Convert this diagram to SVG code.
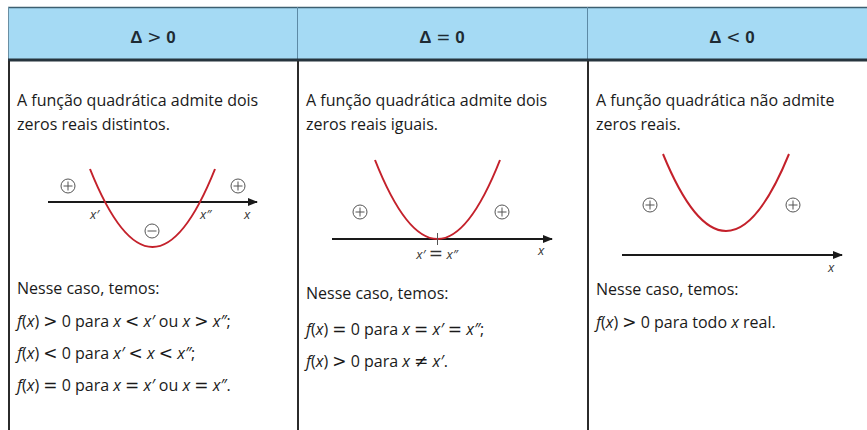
<svg xmlns="http://www.w3.org/2000/svg" width="867" height="430" viewBox="0 0 867 430">
<defs>
<marker id="arr" viewBox="0 0 10 8" refX="9" refY="4" markerWidth="10" markerHeight="8" markerUnits="userSpaceOnUse" orient="auto">
<path d="M0,0 L10,4 L0,8 Z" fill="#1a1a1a"/>
</marker>
<g id="plus"><circle r="7" fill="#fff" stroke="#555" stroke-width="1"/><path d="M-4.5,0 H4.5 M0,-4.5 V4.5" stroke="#555" stroke-width="1"/></g>
<g id="minus"><circle r="7" fill="#fff" stroke="#555" stroke-width="1"/><path d="M-4.5,0 H4.5" stroke="#555" stroke-width="1"/></g>
</defs>
<style>
.hd{font-family:"Liberation Sans",Arial,sans-serif;font-size:17px;font-weight:bold;fill:#1e2a33;text-anchor:middle}
.op{font-family:"DejaVu Sans",sans-serif;font-weight:normal}
.t{font-family:"Open Sans","Liberation Sans",sans-serif;font-size:16px;fill:#1a1a1a}
.o{font-family:"DejaVu Sans",sans-serif;font-size:17px}
.i{font-style:italic}
.lb{font-family:"Open Sans","Liberation Sans",sans-serif;font-size:13px;font-style:italic;fill:#333}
.ax{stroke:#1a1a1a;stroke-width:2;fill:none}
.cv{stroke:#c4212b;stroke-width:2;fill:none}
.bd{stroke:#2b2b2b;stroke-width:2}
</style>
<rect width="867" height="430" fill="#fff"/>
<g id="header">
<rect x="8" y="7" width="859" height="52" fill="#a5daf4"/>
<line x1="8" y1="7.5" x2="867" y2="7.5" stroke="#3d5f70" stroke-width="1.5"/>
<line x1="8.5" y1="7" x2="8.5" y2="59" stroke="#6a8fa3" stroke-width="1"/>
<line x1="297.5" y1="7" x2="297.5" y2="59" stroke="#5d8aa5" stroke-width="1"/>
<line x1="587.5" y1="7" x2="587.5" y2="59" stroke="#5d8aa5" stroke-width="1"/>
<line x1="8" y1="60" x2="867" y2="60" stroke="#26343d" stroke-width="3"/>
<text class="hd" x="153" y="43">Δ <tspan class="op">&gt;</tspan> 0</text>
<text class="hd" x="442" y="43">Δ <tspan class="op">=</tspan> 0</text>
<text class="hd" x="732" y="43">Δ <tspan class="op">&lt;</tspan> 0</text>
</g>
<g id="borders">
<line class="bd" x1="9" y1="61" x2="9" y2="430"/>
<line class="bd" x1="298" y1="61" x2="298" y2="430"/>
<line class="bd" x1="588" y1="61" x2="588" y2="430"/>
</g>
<g id="col1">
<text class="t" x="17" y="106">A função quadrática admite dois</text>
<text class="t" x="17" y="130">zeros reais distintos.</text>
<line class="ax" x1="48" y1="202" x2="257" y2="202" marker-end="url(#arr)"/>
<path class="cv" d="M90,169 Q152.5,325 215,169"/>
<use href="#plus" x="68" y="186"/>
<use href="#plus" x="238" y="186"/>
<use href="#minus" x="152" y="231"/>
<text class="lb" x="90" y="219">x′</text>
<text class="lb" x="200" y="219">x″</text>
<text class="lb" x="244" y="219">x</text>
<text class="t" x="17" y="294">Nesse caso, temos:</text>
<text class="t" x="17" y="327"><tspan class="i">f</tspan>(<tspan class="i">x</tspan>) <tspan class="o">&gt;</tspan> 0 para <tspan class="i">x</tspan> <tspan class="o">&lt;</tspan> <tspan class="i">x′</tspan> ou <tspan class="i">x</tspan> <tspan class="o">&gt;</tspan> <tspan class="i">x″</tspan>;</text>
<text class="t" x="17" y="359"><tspan class="i">f</tspan>(<tspan class="i">x</tspan>) <tspan class="o">&lt;</tspan> 0 para <tspan class="i">x′</tspan> <tspan class="o">&lt;</tspan> <tspan class="i">x</tspan> <tspan class="o">&lt;</tspan> <tspan class="i">x″</tspan>;</text>
<text class="t" x="17" y="391"><tspan class="i">f</tspan>(<tspan class="i">x</tspan>) <tspan class="o">=</tspan> 0 para <tspan class="i">x</tspan> <tspan class="o">=</tspan> <tspan class="i">x′</tspan> ou <tspan class="i">x</tspan> <tspan class="o">=</tspan> <tspan class="i">x″</tspan>.</text>
</g>
<g id="col2">
<text class="t" x="306" y="106">A função quadrática admite dois</text>
<text class="t" x="306" y="130">zeros reais iguais.</text>
<line class="ax" x1="332" y1="239" x2="552" y2="239" marker-end="url(#arr)"/>
<path class="cv" d="M375,160 Q437.5,318 500,160"/>
<line x1="437.5" y1="233" x2="437.5" y2="245" stroke="#555" stroke-width="1"/>
<use href="#plus" x="360" y="212"/>
<use href="#plus" x="502" y="212"/>
<text class="lb" x="437" y="259" text-anchor="middle">x′ <tspan class="o" font-style="normal" font-size="14">=</tspan> x″</text>
<text class="lb" x="538" y="255">x</text>
<text class="t" x="306" y="299">Nesse caso, temos:</text>
<text class="t" x="306" y="335"><tspan class="i">f</tspan>(<tspan class="i">x</tspan>) <tspan class="o">=</tspan> 0 para <tspan class="i">x</tspan> <tspan class="o">=</tspan> <tspan class="i">x′</tspan> <tspan class="o">=</tspan> <tspan class="i">x″</tspan>;</text>
<text class="t" x="306" y="367"><tspan class="i">f</tspan>(<tspan class="i">x</tspan>) <tspan class="o">&gt;</tspan> 0 para <tspan class="i">x</tspan> <tspan class="o">≠</tspan> <tspan class="i">x′</tspan>.</text>
</g>
<g id="col3">
<text class="t" x="596" y="106">A função quadrática não admite</text>
<text class="t" x="596" y="130">zeros reais.</text>
<line class="ax" x1="622" y1="255" x2="842" y2="255" marker-end="url(#arr)"/>
<path class="cv" d="M663,154 Q726,308 789,154"/>
<use href="#plus" x="650" y="205"/>
<use href="#plus" x="793" y="205"/>
<text class="lb" x="828" y="272">x</text>
<text class="t" x="596" y="295">Nesse caso, temos:</text>
<text class="t" x="596" y="328"><tspan class="i">f</tspan>(<tspan class="i">x</tspan>) <tspan class="o">&gt;</tspan> 0 para todo <tspan class="i">x</tspan> real.</text>
</g>
</svg>
